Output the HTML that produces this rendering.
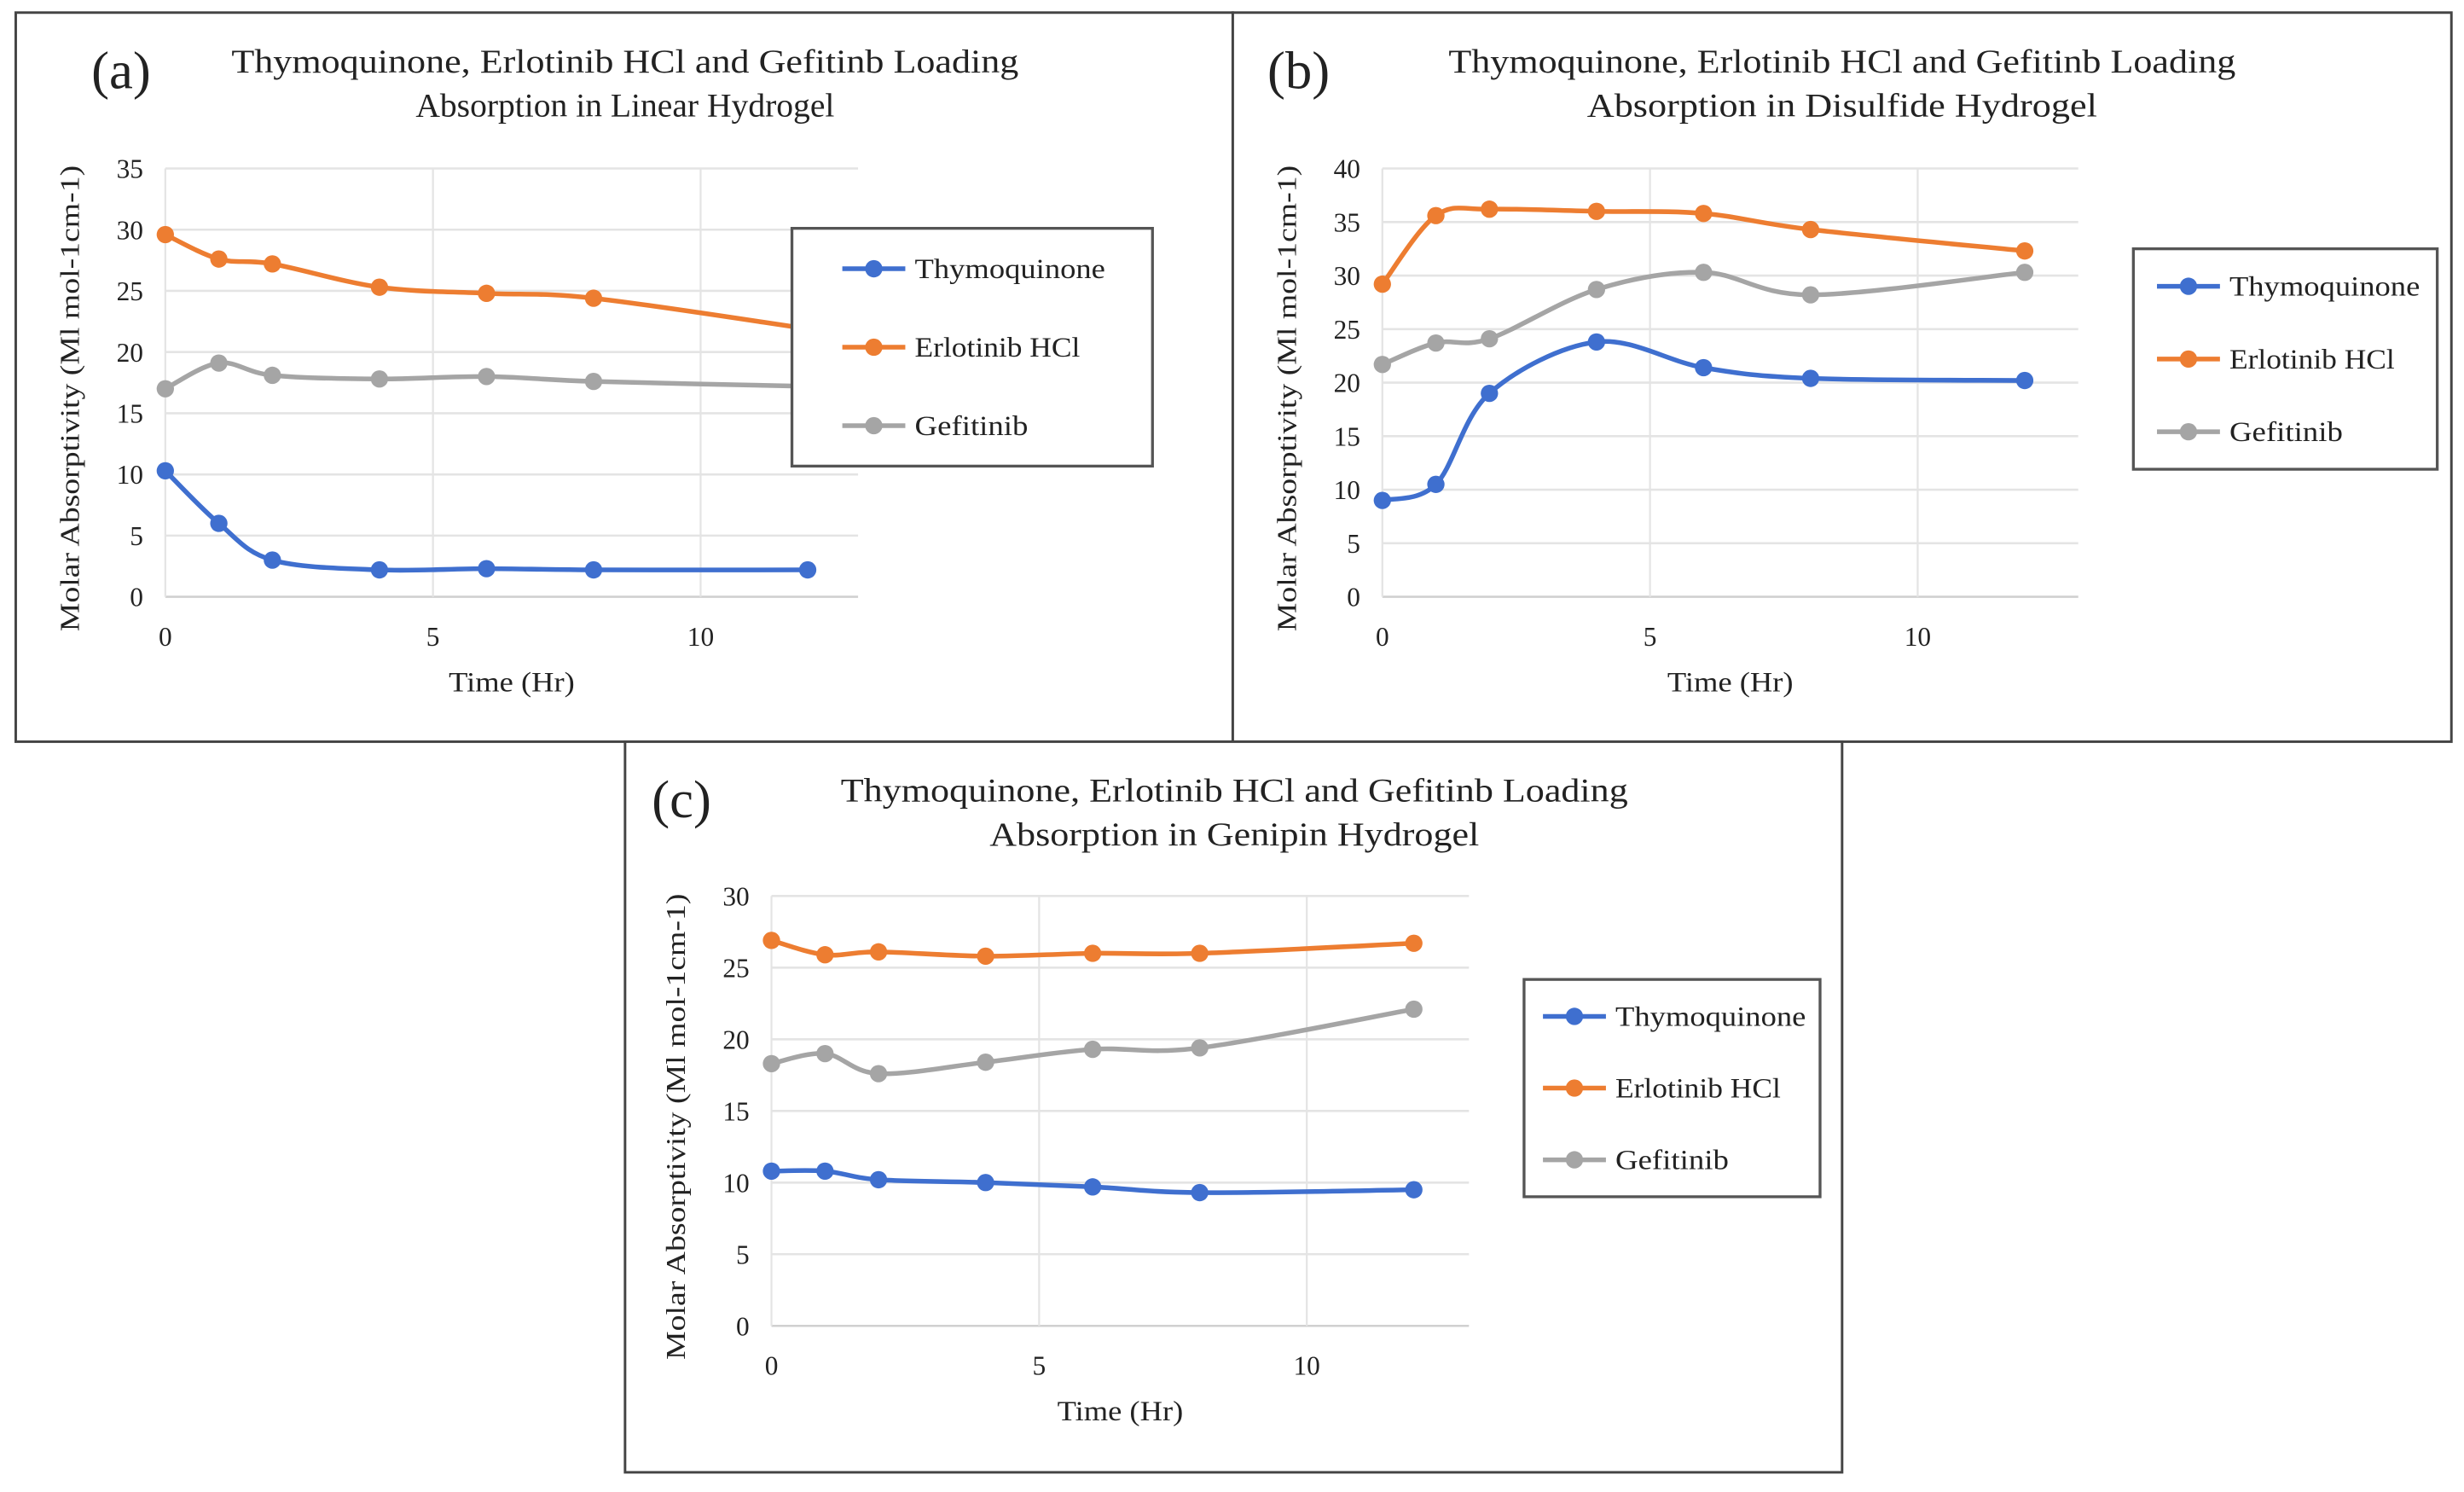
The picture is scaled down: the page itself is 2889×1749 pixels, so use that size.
<!DOCTYPE html>
<html><head><meta charset="utf-8"><style>
html,body{margin:0;padding:0;background:#fff;}
svg{display:block;}
text{font-family:"Liberation Serif",serif;fill:#222;}
</style></head><body>
<svg id="fig" width="2889" height="1749" viewBox="0 0 1565 947.5" preserveAspectRatio="none"></svg>
<script>
const times = [0,1,2,4,6,8,12];
const seriesNames = ["Thymoquinone","Erlotinib HCl","Gefitinib"];
const colors = ["#3f6fcf","#ed7d31","#a5a5a5"];
const aThymo = [10.3,6,3,2.2,2.3,2.2,2.2];
const aErlo = [29.6,27.6,27.2,25.3,24.8,24.4,21.9];
const aGefi = [17,19.1,18.1,17.8,18,17.6,17.2];
const bThymo = [9,10.5,19,23.8,21.4,20.4,20.2];
const bErlo = [29.2,35.6,36.2,36,35.8,34.3,32.3];
const bGefi = [21.7,23.7,24.1,28.7,30.3,28.2,30.3];
const cThymo = [10.8,10.8,10.2,10,9.7,9.3,9.5];
const cErlo = [26.9,25.9,26.1,25.8,26,26,26.7];
const cGefi = [18.3,19,17.6,18.4,19.3,19.4,22.1];
const xTicks = [0,5,10];
const aYTicks = [0,5,10,15,20,25,30,35];
const bYTicks = [0,5,10,15,20,25,30,35,40];
const cYTicks = [0,5,10,15,20,25,30];

const NS="http://www.w3.org/2000/svg";
const svg=document.getElementById('fig');
function mk(tag,attrs,parent,txt){const e=document.createElementNS(NS,tag);for(const k in attrs)e.setAttribute(k,attrs[k]);if(txt!==undefined)e.textContent=txt;(parent||svg).appendChild(e);return e;}

const panels=[
 {id:'a',label:'(a)',box:[10,8,773,463],t2:'Absorption in Linear Hydrogel',t2w:266,x0:105,xr:545,y0:379,yt:107,ymax:35,yticks:aYTicks,data:[aThymo,aErlo,aGefi],leg:[503,145,229,151],lo:32,tx:397,ty:40,lx:58},
 {id:'b',label:'(b)',box:[783,8,774,463],t2:'Absorption in Disulfide Hydrogel',t2w:324,x0:878,xr:1320,y0:379,yt:107,ymax:40,yticks:bYTicks,data:[bThymo,bErlo,bGefi],leg:[1355,158,193,140],lo:15,tx:1170,ty:40,lx:805},
 {id:'c',label:'(c)',box:[397,471,773,464],t2:'Absorption in Genipin Hydrogel',t2w:311,x0:490,xr:933,y0:842,yt:569,ymax:30,yticks:cYTicks,data:[cThymo,cErlo,cGefi],leg:[968,622,188,138],lo:12,tx:784,ty:503,lx:414}
];

function smoothPath(pts){
 let d=`M${pts[0][0]},${pts[0][1]}`;
 for(let i=0;i<pts.length-1;i++){
  const p0=pts[i-1]||pts[i],p1=pts[i],p2=pts[i+1],p3=pts[i+2]||p2;
  const t=0.25;
  const c1=[p1[0]+(p2[0]-p0[0])*t/1.5,p1[1]+(p2[1]-p0[1])*t/1.5];
  const c2=[p2[0]-(p3[0]-p1[0])*t/1.5,p2[1]-(p3[1]-p1[1])*t/1.5];
  d+=` C${c1[0]},${c1[1]} ${c2[0]},${c2[1]} ${p2[0]},${p2[1]}`;
 }
 return d;
}

panels.forEach(p=>{
 const g=mk('g',{});
 
 
 const [bx,by,bw,bh]=p.box;
 mk('rect',{x:bx,y:by,width:bw,height:bh,fill:'#fff',stroke:'#444','stroke-width':1.6},g);
 const unit=34;
 const X=v=>p.x0+v*unit;
 const Y=v=>p.y0-(v/p.ymax)*(p.y0-p.yt);
 const lab=mk('text',{x:p.lx,y:p.ty+16,'font-size':34},g,p.label);
 
 const t1=mk('text',{x:p.tx-250,y:p.ty+6,'font-size':21,textLength:500,lengthAdjust:'spacingAndGlyphs'},g,'Thymoquinone, Erlotinib HCl and Gefitinb Loading');
 
 mk('text',{x:p.tx-p.t2w/2,y:p.ty+34,'font-size':21,textLength:p.t2w,lengthAdjust:'spacingAndGlyphs'},g,p.t2);
 p.yticks.forEach(v=>{
  mk('line',{x1:p.x0,x2:p.xr,y1:Y(v),y2:Y(v),stroke:v===0?'#d0d0d0':'#e4e4e4','stroke-width':1.4},g);
  const tl=mk('text',{x:p.x0-14,y:Y(v)+6,'font-size':17,'text-anchor':'end'},g,String(v));
  
 });
 xTicks.forEach(v=>{
  mk('line',{x1:X(v),x2:X(v),y1:p.yt,y2:p.y0,stroke:'#e4e4e4','stroke-width':1.2},g);
  const tl=mk('text',{x:X(v),y:p.y0+31,'font-size':17,'text-anchor':'middle'},g,String(v));
  
 });
 const xt=mk('text',{x:(p.x0+p.xr)/2-40,y:p.y0+60,'font-size':18,textLength:80,lengthAdjust:'spacingAndGlyphs'},g,'Time (Hr)');
 
 const cy=(p.yt+p.y0)/2+10, cx=p.x0-55;
 const yt=mk('text',{x:cx-148,y:cy,'font-size':17,textLength:296,lengthAdjust:'spacingAndGlyphs',transform:`rotate(-90 ${cx} ${cy})`},g,'Molar Absorptivity (Ml mol-1cm-1)');
 
 p.data.forEach((vals,si)=>{
  const pts=vals.map((v,i)=>[X(times[i]),Y(v)]);
  const path=mk('path',{d:smoothPath(pts),fill:'none',stroke:colors[si],'stroke-width':3},g);
  
  
  pts.forEach(pt=>{
   const c=mk('circle',{cx:pt[0],cy:pt[1],r:5.5,fill:colors[si]},g);
   
   
  });
 });
 const [lx,ly,lw,lh]=p.leg;
 const lg=mk('g',{},g);
 
 mk('rect',{x:lx,y:ly,width:lw,height:lh,fill:'#fff',stroke:'#555','stroke-width':1.8},lg);
 const tw=[121,105,72];
 seriesNames.forEach((n,si)=>{
  const yy=ly+lh*(0.17+si*0.33);
  const e=mk('g',{},lg);
  
  mk('line',{x1:lx+p.lo,x2:lx+p.lo+40,y1:yy,y2:yy,stroke:colors[si],'stroke-width':3},e);
  mk('circle',{cx:lx+p.lo+20,cy:yy,r:5.5,fill:colors[si]},e);
  mk('text',{x:lx+p.lo+46,y:yy+6,'font-size':18,textLength:tw[si],lengthAdjust:'spacingAndGlyphs'},e,n);
 });
});
</script>
</body></html>
